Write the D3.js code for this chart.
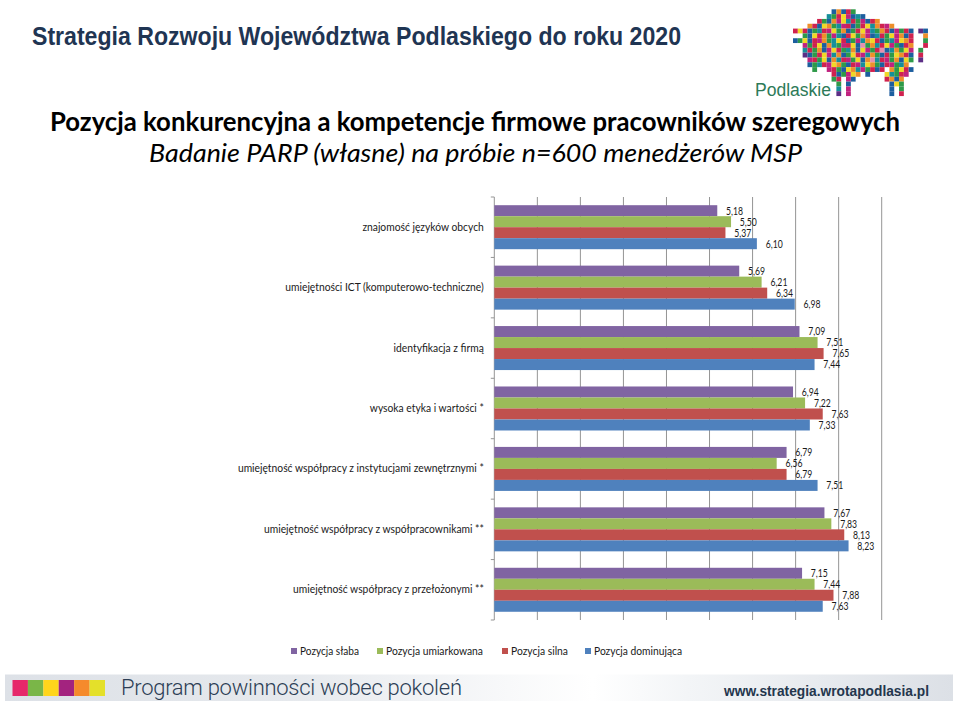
<!DOCTYPE html>
<html lang="pl">
<head>
<meta charset="utf-8">
<script src="https://cdn.jsdelivr.net/npm/d3@7/dist/d3.min.js"></script>
<style>
html,body{margin:0;padding:0;background:#fff;}
svg{display:block;}
text{font-family:Lato,"Open Sans",sans-serif;}
</style>
</head>
<body>
<svg id="c" width="959" height="707"></svg>
<script>
const categories = [
  "znajomość języków obcych",
  "umiejętności ICT (komputerowo-techniczne)",
  "identyfikacja z firmą",
  "wysoka etyka i wartości *",
  "umiejętność współpracy z instytucjami zewnętrznymi *",
  "umiejętność współpracy z współpracownikami **",
  "umiejętność współpracy z przełożonymi **"
];
const seriesNames = ["Pozycja słaba","Pozycja umiarkowana","Pozycja silna","Pozycja dominująca"];
const seriesColors = ["#8064a2","#9bbb59","#c0504d","#4f81bd"];
const slaba       = [5.18,5.69,7.09,6.94,6.79,7.67,7.15];
const umiarkowana = [5.50,6.21,7.51,7.22,6.56,7.83,7.44];
const silna       = [5.37,6.34,7.65,7.63,6.79,8.13,7.88];
const dominujaca  = [6.10,6.98,7.44,7.33,7.51,8.23,7.63];
const seriesValues = [slaba,umiarkowana,silna,dominujaca];
const gridTicks = [0,1,2,3,4,5,6,7,8,9];
const footerColors = ["#e6286a","#7ab648","#ffd51c","#a3237f","#f58a2c","#e4e02a"];
const logoPalette = {r:"#d0234f",g:"#2f9a48",b:"#1f5f9f",o:"#ee8f2a",y:"#f0d828",p:"#c0247f",t:"#168f9a",v:"#5c2d86",l:"#e58fb0"};
const logoRows = [
"........bobrg...............",
".......tgrypbtb.............",
".....rgbopytrgpbro..........",
"...orbyogtprbgrytorpo.......",
"ryrbgtrpygobgryptgorbpgrb.vb",
"..gbyrogptbrygopbtrgypobr..o",
"bgybrpogtyrbgptoyrbgtpyor..g",
"..pgrybotgpryblgotrypgbro..r",
"..trgobpyrgtobypgrlbtogyp.g.",
"..vbgryptobgyrptogbrgyorb.r.",
"...prgybotrpgyboltrpgobyg.v.",
"...bgtrpyogbrptyogbrpgto....",
"....g..prgbyotpgrbr.ogyrb...",
"........rbgpyo.b...ytgrp....",
"........gr.pb......robo.....",
".........g.b........byg.....",
".........t.p........b.g.....",
".........v.p........b.r....."
];

const svg=d3.select("#c");
const defs=svg.append("defs");
const grad=defs.append("linearGradient").attr("id","band");
[[0,"#dde1e7"],[0.3,"#e6e9ed"],[0.62,"#ffffff"],[0.72,"#f3f5f7"],[1,"#dce0e6"]].forEach(([o,c])=>
  grad.append("stop").attr("offset",o).attr("stop-color",c));
const soft=defs.append("filter").attr("id","soft");
soft.append("feGaussianBlur").attr("stdDeviation",0.45);

// Header
svg.append("text").attr("x",32).attr("y",44.5)
  .attr("textLength",649).attr("lengthAdjust","spacingAndGlyphs")
  .style("font-family",'"Liberation Sans",sans-serif')
  .style("font-weight",700).style("font-size","25.5px").attr("fill","#1f3553")
  .text("Strategia Rozwoju Województwa Podlaskiego do roku 2020");

// Logo mosaic
const cell=4.82, lx=793, ly=9.3;
const cells=[];
logoRows.forEach((row,r)=>row.split("").forEach((k,c)=>{ if(k!==".") cells.push({r,c,k}); }));
svg.append("g").attr("filter","url(#soft)").selectAll("rect").data(cells).join("rect")
  .attr("x",d=>lx+d.c*cell).attr("y",d=>ly+d.r*cell)
  .attr("width",cell).attr("height",cell).attr("fill",d=>logoPalette[d.k]);
svg.append("text").attr("x",755).attr("y",96)
  .attr("textLength",76).attr("lengthAdjust","spacingAndGlyphs")
  .style("font-family",'"Liberation Sans",sans-serif').style("font-size","18px")
  .attr("fill","#2d7a58").text("Podlaskie");

// Titles
svg.append("text").attr("x",50).attr("y",131)
  .attr("textLength",850).attr("lengthAdjust","spacingAndGlyphs")
  .style("font-weight",700).style("font-size","27px").attr("fill","#000")
  .text("Pozycja konkurencyjna a kompetencje firmowe pracowników szeregowych");
svg.append("text").attr("x",149).attr("y",162)
  .attr("textLength",653).attr("lengthAdjust","spacingAndGlyphs")
  .style("font-style","italic").style("font-size","26px").attr("fill","#000")
  .text("Badanie PARP (własne) na próbie n=600 menedżerów MSP");

// Chart
const x=d3.scaleLinear().domain([0,9]).range([494.3,881.7]);
const y=d3.scaleBand().domain(categories).range([197,620]);
const inner=d3.scaleBand().domain(d3.range(seriesNames.length)).range([8.2,52.2]);

svg.append("g").selectAll("line").data(gridTicks.slice(1)).join("line")
  .attr("x1",d=>x(d)).attr("x2",d=>x(d)).attr("y1",197).attr("y2",620)
  .attr("stroke","#959595").attr("stroke-width",1);

const axisG=svg.append("g").attr("transform",`translate(${x(0)},0)`)
  .call(d3.axisLeft(y).tickSize(0).tickPadding(10.5));
axisG.select(".domain").remove();
axisG.selectAll("text").style("font-family","Lato,sans-serif").style("font-size","11px").attr("fill","#1a1a1a")
  .each(function(){
    this.setAttribute("textLength",(this.getComputedTextLength()*0.935).toFixed(1));
    this.setAttribute("lengthAdjust","spacingAndGlyphs");
  });
svg.append("g").selectAll("line").data(d3.range(categories.length+1)).join("line")
  .attr("x1",x(0)-3.5).attr("x2",x(0)).attr("y1",i=>197+i*y.bandwidth()).attr("y2",i=>197+i*y.bandwidth())
  .attr("stroke","#959595");
svg.append("line").attr("x1",x(0)).attr("x2",x(0)).attr("y1",197).attr("y2",620).attr("stroke","#959595");

const groups=svg.append("g").selectAll("g").data(categories).join("g")
  .attr("transform",d=>`translate(0,${y(d)})`);
groups.each(function(cat,ci){
  const g=d3.select(this);
  const rows=seriesValues.map((vals,si)=>({si,v:vals[ci]}));
  g.selectAll("rect").data(rows).join("rect")
    .attr("x",x(0)).attr("y",d=>inner(d.si)).attr("height",inner.bandwidth())
    .attr("width",d=>x(d.v)-x(0)).attr("fill",d=>seriesColors[d.si]);
  g.selectAll("text").data(rows).join("text")
    .attr("x",d=>x(d.v)+8.8).attr("y",d=>inner(d.si)+inner.bandwidth()/2)
    .attr("dy","0.36em").style("font-size","10.6px").attr("fill","#1a1a1a")
    .attr("textLength",17).attr("lengthAdjust","spacingAndGlyphs")
    .text(d=>d3.format(".2f")(d.v).replace(".",","));
});

// Legend
const legendX=[291,377,502,585];
const legendTextW=[59,97,57,88];
const lg=svg.append("g").selectAll("g").data(seriesNames).join("g")
  .attr("transform",(d,i)=>`translate(${legendX[i]},651)`);
lg.append("rect").attr("x",0).attr("y",-3).attr("width",6).attr("height",6)
  .attr("fill",(d,i)=>seriesColors[i]);
lg.append("text").attr("x",9).attr("dy","0.36em").style("font-size","11px").attr("fill","#1a1a1a")
  .attr("textLength",(d,i)=>legendTextW[i]).attr("lengthAdjust","spacingAndGlyphs").text(d=>d);

// Footer
svg.append("rect").attr("x",5).attr("y",674.5).attr("width",948).attr("height",26.5).attr("fill","url(#band)");
const fx=d3.scaleBand().domain(d3.range(footerColors.length)).range([12.5,105]);
svg.append("g").selectAll("rect").data(footerColors).join("rect")
  .attr("x",(d,i)=>fx(i)).attr("y",680).attr("width",fx.bandwidth()).attr("height",16).attr("fill",d=>d);
svg.append("text").attr("x",121).attr("y",695)
  .attr("textLength",341).attr("lengthAdjust","spacing")
  .style("font-family",'Roboto,"Liberation Sans",sans-serif').style("font-weight",300).style("font-size","22px").attr("fill","#2c3e55")
  .text("Program powinności wobec pokoleń");
svg.append("text").attr("x",724).attr("y",695.5)
  .attr("textLength",205).attr("lengthAdjust","spacingAndGlyphs")
  .style("font-family",'"Liberation Sans",sans-serif').style("font-weight",700).style("font-size","15.5px").attr("fill","#24364d")
  .text("www.strategia.wrotapodlasia.pl");
</script>
</body>
</html>
